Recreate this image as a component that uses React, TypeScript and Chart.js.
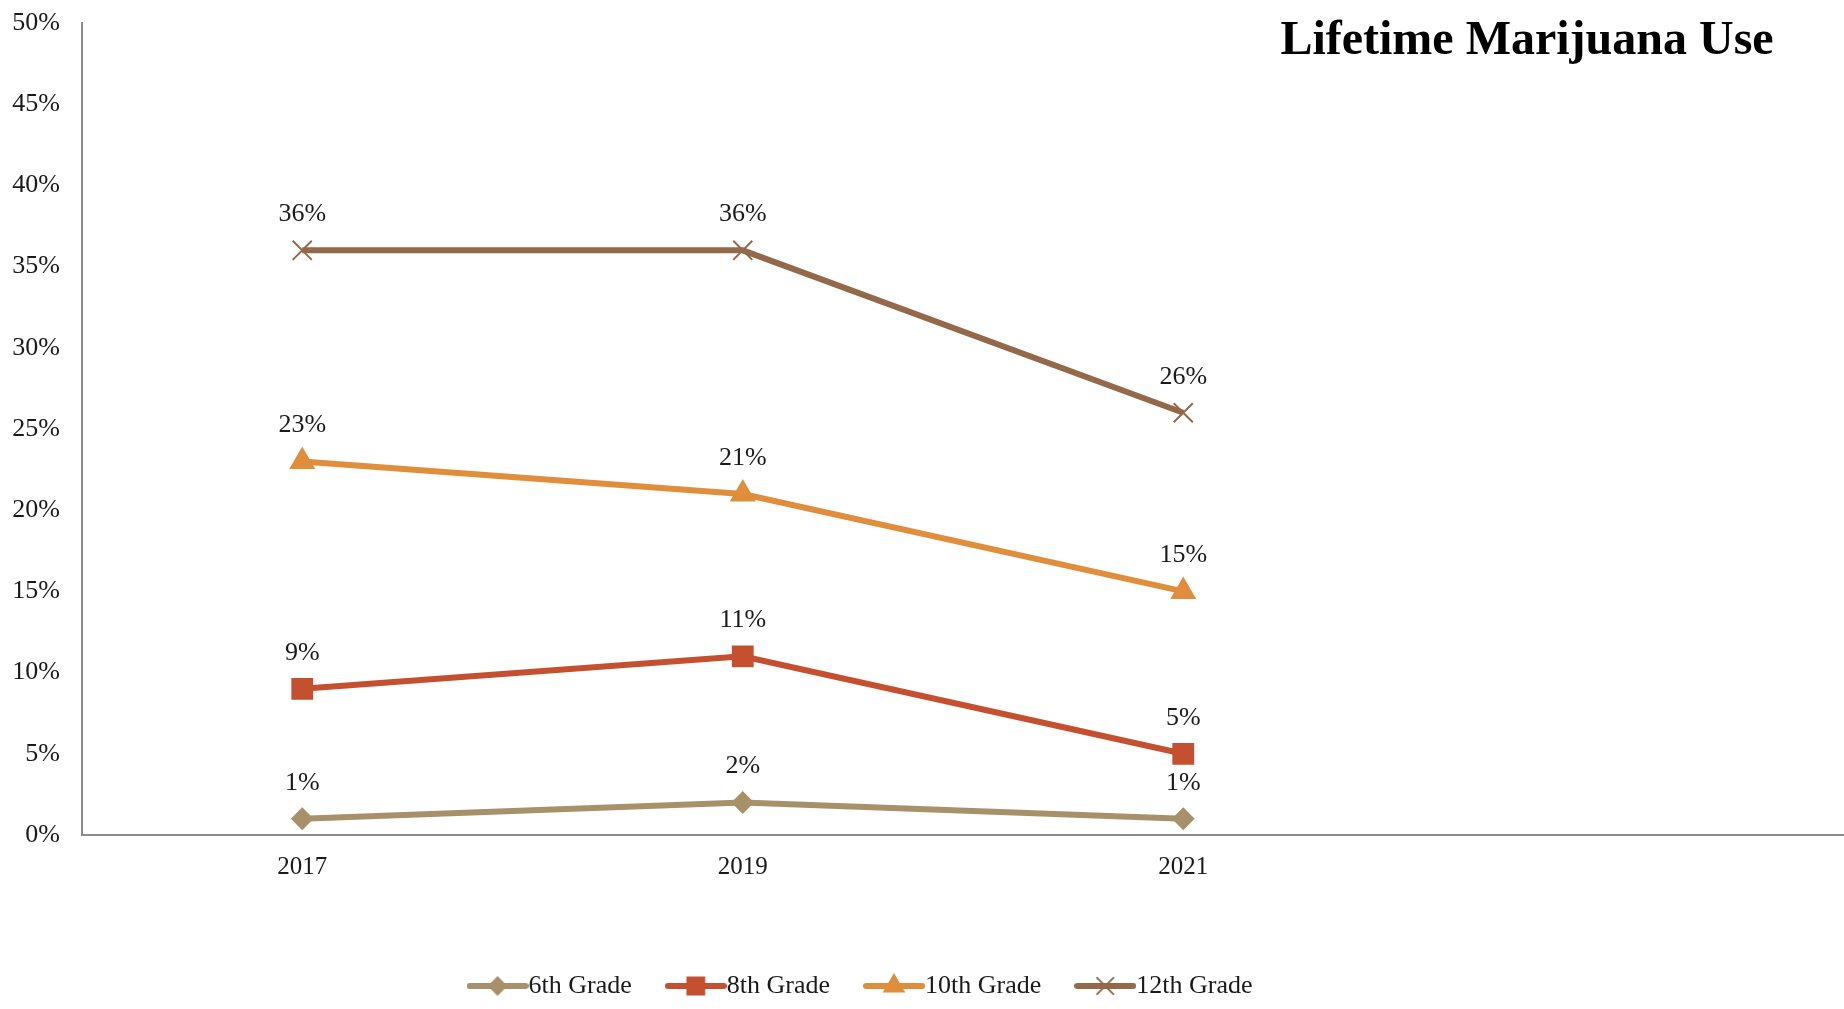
import React, { useEffect, useRef } from 'react';
import { Chart, registerables } from 'chart.js';
import { drawPoint } from 'chart.js/helpers';

Chart.register(...registerables);

const chartTitle = 'Lifetime Marijuana Use';
const years = ['2017', '2019', '2021', ''];
const grade6 = [1, 2, 1, null];
const grade8 = [9, 11, 5, null];
const grade10 = [23, 21, 15, null];
const grade12 = [36, 36, 26, null];
const seriesNames = ['6th Grade', '8th Grade', '10th Grade', '12th Grade'];
const seriesValues = [grade6, grade8, grade10, grade12];
const seriesColors = ['#A8916A', '#C4502F', '#E08D3C', '#93694A'];
const seriesMarkers = ['rectRot', 'rect', 'triangle', 'crossRot'];
const markerRadii = [10, 14, 13, 13.5];
const yMax = 50;
const yStep = 5;

const FONT = '"Liberation Serif", "Times New Roman", serif';
const TEXT = '#1a1a1a';

function legendImage(color: string, style: string, radius: number) {
  const c = document.createElement('canvas');
  c.width = 62;
  c.height = 26;
  const ctx = c.getContext('2d') as CanvasRenderingContext2D;
  ctx.strokeStyle = color;
  ctx.lineWidth = 6;
  ctx.lineCap = 'round';
  ctx.beginPath();
  ctx.moveTo(3, 13);
  ctx.lineTo(59, 13);
  ctx.stroke();
  ctx.fillStyle = color;
  ctx.strokeStyle = color;
  ctx.lineWidth = 2;
  drawPoint(ctx, { pointStyle: style as any, rotation: 0, radius: radius * 0.85, borderWidth: 2 }, 31, 13);
  return c;
}

const dataLabelPlugin = {
  id: 'dataLabels',
  afterDatasetsDraw(chart: any) {
    const ctx = chart.ctx;
    ctx.save();
    ctx.font = `26px ${FONT}`;
    ctx.fillStyle = TEXT;
    ctx.textAlign = 'center';
    ctx.textBaseline = 'middle';
    chart.data.datasets.forEach((ds: any, i: number) => {
      const meta = chart.getDatasetMeta(i);
      meta.data.forEach((el: any, j: number) => {
        const v = ds.data[j];
        if (v === null || v === undefined) return;
        ctx.fillText(`${v}%`, el.x, el.y - 36);
      });
    });
    ctx.restore();
  },
};

const titlePlugin = {
  id: 'titleText',
  afterDraw(chart: any) {
    const ctx = chart.ctx;
    ctx.save();
    ctx.font = `bold 48px ${FONT}`;
    ctx.fillStyle = '#000';
    ctx.textAlign = 'center';
    ctx.textBaseline = 'middle';
    ctx.fillText(chartTitle, 1527, 42);
    ctx.restore();
  },
};

const legendShiftPlugin = {
  id: 'legendShift',
  afterLayout(chart: any) {
    const lg = chart.legend;
    if (lg) {
      lg.left -= 56;
      lg.right -= 56;
    }
  },
};

export default function App() {
  const ref = useRef<HTMLCanvasElement | null>(null);

  useEffect(() => {
    if (!ref.current) return;
    const images = seriesNames.map((_, i) => legendImage(seriesColors[i], seriesMarkers[i], markerRadii[i]));
    const chart = new Chart(ref.current, {
      type: 'line',
      data: {
        labels: years,
        datasets: seriesNames.map((name, i) => ({
          label: name,
          data: seriesValues[i],
          borderColor: seriesColors[i],
          backgroundColor: seriesColors[i],
          borderWidth: 6,
          tension: 0,
          pointStyle: seriesMarkers[i] as any,
          pointRadius: markerRadii[i],
          pointBackgroundColor: seriesColors[i],
          pointBorderColor: seriesColors[i],
          pointBorderWidth: 2,
          spanGaps: false,
        })),
      },
      options: {
        responsive: false,
        animation: false,
        devicePixelRatio: 1,
        layout: { autoPadding: false, padding: { top: 23, left: 0, right: 0, bottom: 0 } },
        plugins: {
          title: { display: false },
          tooltip: { enabled: false },
          legend: {
            display: true,
            position: 'bottom',
            labels: {
              usePointStyle: true,
              pointStyleWidth: 36,
              boxHeight: 20,
              padding: 46,
              color: TEXT,
              font: { family: FONT, size: 26 },
              generateLabels: (chart: any) =>
                chart.data.datasets.map((ds: any, i: number) => ({
                  text: ds.label,
                  fillStyle: seriesColors[i],
                  strokeStyle: seriesColors[i],
                  lineWidth: 0,
                  pointStyle: images[i],
                  hidden: false,
                  datasetIndex: i,
                  fontColor: TEXT,
                })),
            },
          },
        },
        scales: {
          x: {
            type: 'category',
            offset: true,
            grid: { display: false, drawTicks: false },
            border: { display: true, color: '#8c8c8c', width: 2 },
            ticks: { color: TEXT, font: { family: FONT, size: 25 }, padding: 17, maxRotation: 0 },
            afterFit: (scale: any) => {
              const lh = scale.chart.legend ? scale.chart.legend.height : 0;
              scale.height = 1009 - 835 - lh;
              scale.paddingLeft = 0;
              scale.paddingRight = 0;
            },
          },
          y: {
            min: 0,
            max: yMax,
            grid: { display: false, drawTicks: false },
            border: { display: true, color: '#8c8c8c', width: 2 },
            ticks: {
              stepSize: yStep,
              color: TEXT,
              font: { family: FONT, size: 26 },
              padding: 22,
              callback: (v: any) => `${v}%`,
            },
            afterFit: (scale: any) => {
              scale.width = 82;
              scale.paddingTop = 0;
              scale.paddingBottom = 0;
            },
          },
        },
      },
      plugins: [dataLabelPlugin, titlePlugin, legendShiftPlugin],
    });
    return () => chart.destroy();
  }, []);

  return (
    <div style={{ position: 'fixed', left: 0, top: 0, width: 1844, height: 1009, background: '#fff' }}>
      <canvas ref={ref} width={1844} height={1009} style={{ display: 'block' }} />
    </div>
  );
}
